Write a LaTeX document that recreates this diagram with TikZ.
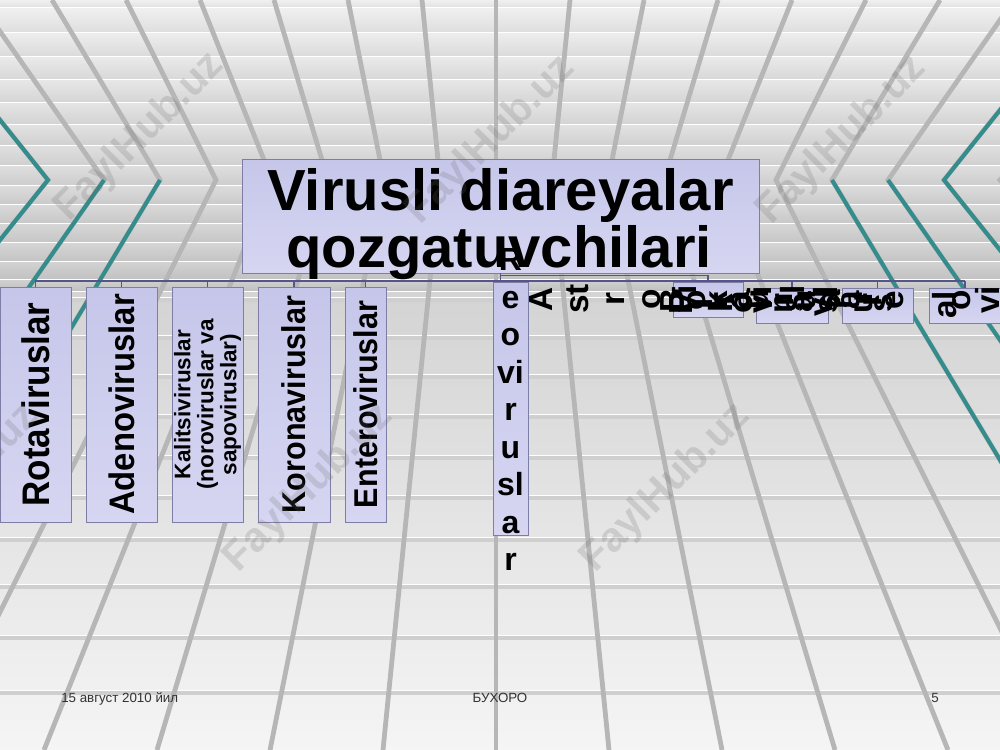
\documentclass[tikz,border=0pt]{standalone}
\usepackage{fontspec}
\setmainfont{Liberation Sans}
\usepackage{graphicx}
\usetikzlibrary{fit,calc}
\definecolor{boxfill}{RGB}{198,198,234}
\definecolor{boxfill2}{RGB}{214,214,242}
\definecolor{boxline}{RGB}{125,125,165}
\definecolor{conncol}{RGB}{85,85,140}
\definecolor{tealc}{RGB}{52,140,140}
\definecolor{gridc}{RGB}{182,182,182}
\tikzset{
  vbox/.style={draw=boxline, line width=0.6pt, top color=boxfill, bottom color=boxfill2, inner sep=0pt, rectangle},
  conn/.style={draw=conncol, line width=1.2pt},
  rottxt/.style={font=\bfseries\fontsize{25}{27}\selectfont, rotate=90, anchor=base, inner sep=0pt},
  reoltr/.style={font=\bfseries\fontsize{24}{27}\selectfont, anchor=base, inner sep=0pt},
  boxtxt/.style={rotate=90, inner sep=0pt, align=center},
  titletxt/.style={font=\bfseries\fontsize{43.5}{43.5}\selectfont, anchor=base, inner sep=0pt},
  wm/.style={font=\bfseries\fontsize{31}{31}\selectfont, rotate=45, text=gray!80!black, opacity=0.2},
  foot/.style={font=\fontsize{10}{12}\selectfont, text=black!80, anchor=base, inner sep=0pt},
  gline/.style={draw=gridc, line width=3.6pt},
  tline/.style={draw=tealc, line width=3pt}
}
\begin{document}
\begin{tikzpicture}[x=0.75pt,y=-0.75pt]
\useasboundingbox (0,0) rectangle (1000,750);
\clip (0,0) rectangle (1000,750);
% ceiling rows
\foreach \ya/\yb in {0/8,8/33,33/57,57/80,80/103,103/125,125/146,146/166,166/186,186/205,205/224,224/243,243/262,262/280,280/292}{
  \pgfmathtruncatemacro{\ca}{12+\ya*0.09}
  \pgfmathtruncatemacro{\cb}{24+\yb*0.09}
  \fill[top color=gray!\ca, bottom color=gray!\cb] (0,\ya) rectangle (1000,\yb);
  \draw[white, line width=1.1pt] (0,\yb) -- (1000,\yb);
}
% floor
\fill[top color=gray!34, bottom color=gray!8] (0,292) rectangle (1000,750);
\foreach \yy in {300,338,377,417,458,498,540,587,638,693}{
  \draw[gray!38, line width=2.4pt] (0,\yy) -- (1000,\yy);
  \draw[white, line width=0.9pt] (0,\yy-2.5) -- (1000,\yy-2.5);
}
% chevron grid lines
\foreach \k in {-10,...,10}{
  \draw[gline] ({496+74*\k},0) -- ({496+56*\k},180) -- ({496+113*\k},750);
}
% teal segments
\draw[tline] ({496-74*8},0) -- ({496-56*8},180) -- ({496-113*8},750);
\draw[tline] ({496+74*8},0) -- ({496+56*8},180) -- ({496+113*8},750);
\foreach \k in {6,7}{
  \draw[tline] ({496-56*\k},180) -- ({496-113*\k},750);
  \draw[tline] ({496+56*\k},180) -- ({496+113*\k},750);
}
% title
\node[vbox, fit={(242,159)(759,273)}] (title) {};
\node[titletxt] (t1) at (500.5,210) {Virusli diareyalar};
\node[titletxt] (t2) at (499,267) {qozgatuvchilari};
% left boxes
\node[vbox, fit={(0,287)(71,522)}] (rota) {};
\node[vbox, fit={(86,287)(157,522)}] (adeno) {};
\node[vbox, fit={(172,287)(243,522)}] (kal) {};
\node[vbox, fit={(258,287)(330,522)}] (korona) {};
\node[vbox, fit={(345,287)(386,522)}] (entero) {};
\node[boxtxt, font=\bfseries\fontsize{26.2}{30}\selectfont] (rotaT) at (rota.center) {\scalebox{1}[1.1]{Rotaviruslar}};
\node[boxtxt, font=\bfseries\fontsize{24.6}{30}\selectfont] (adenoT) at (adeno.center) {\scalebox{1}[1.08]{Adenoviruslar}};
\node[boxtxt, font=\bfseries\fontsize{16.9}{17.3}\selectfont] (kalT) at (kal.center) {Kalitsiviruslar\\(noroviruslar va\\sapoviruslar)};
\node[boxtxt, font=\bfseries\fontsize{22.9}{30}\selectfont] (koronaT) at (korona.center) {\scalebox{1}[1.08]{Koronaviruslar}};
\node[boxtxt, font=\bfseries\fontsize{22.9}{30}\selectfont] (enteroT) at (entero.center) {\scalebox{1}[1.08]{Enteroviruslar}};
% reo column
\node[vbox, fit={(493,282)(528,535)}] (reo) {};
% right small boxes
\node[vbox, fit={(673,282)(743,317)}] (r1) {};
\node[vbox, fit={(756,288)(828,323)}] (r2) {};
\node[vbox, fit={(842,288)(913,323)}] (r3) {};
\node[vbox, fit={(929,288)(1001,323)}] (r4) {};
% connectors
\coordinate (busL) at (35,281);
\coordinate (busR) at (965,281);
\coordinate (brk) at (708,275.5);
\draw[conn] (busL) -- (busR);
\draw[conn] (title.south) -- (title.south |- busL);
\draw[conn] (title.south |- brk) -- (brk) -- (r1.north);
\foreach \n in {rota,adeno,kal,korona,entero,r2,r3,r4}{
  \draw[conn] (\n.north) -- (\n.north |- busL);
}
% reo letters
\foreach \l [count=\i from 0] in {R,e,o,vi,r,u,sl,a,r}{
  \node[reoltr] (reo\i) at (510.5,{270.5+37.5*\i}) {\l};
}
% garbled rotated letters
\foreach \l [count=\i from 0] in {A,st,r,o,vi,r,u,sl,a,r}{
  \node[rottxt] (ast\i) at ({552+36*\i},299) {\l};
}
\foreach \l [count=\i from 0] in {P,i,k,o,r,n,a,vi,r,u,s}{
  \node[rottxt] (pk\i) at ({692+20*\i},303) {\l};
}
\foreach \l [count=\i from 0] in {B,o,k,a,vi,r,u,sl,a,r,e}{
  \node[rottxt] (bk\i) at ({683+22*\i},300) {\l};
}
\node[rottxt] (g1) at (956,305) {al};
\node[rottxt] (g2) at (970,300) {o};
\node[rottxt] (g3) at (999,300) {vi};
% footer
\node[foot, anchor=base west] (date) at (61,702) {15 август 2010 йил};
\node[foot] (city) at (500,702) {БУХОРО};
\node[foot, anchor=base east] (num) at (939,702) {5};
% watermarks
\foreach \x/\yy [count=\i] in {140/137,491/140,842/140,-45/488,309/488,666/488}{
  \node[wm] (wm\i) at (\x,\yy) {FaylHub.uz};
}
\end{tikzpicture}
\end{document}
